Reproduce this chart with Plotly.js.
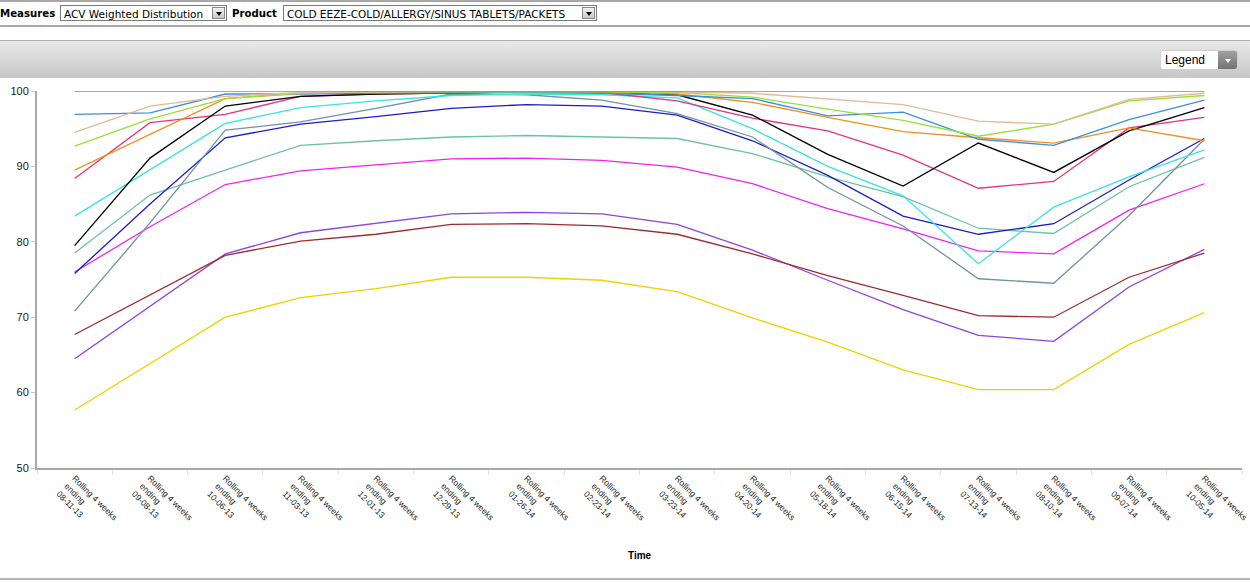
<!DOCTYPE html>
<html><head><meta charset="utf-8">
<script src="https://cdn.plot.ly/plotly-3.0.1.min.js"></script>
<style>
body{margin:0;width:1250px;height:586px;background:#fff;overflow:hidden;position:relative;font-family:"DejaVu Sans",Verdana,sans-serif}
.abs{position:absolute}
.lbl{font-weight:bold;font-size:10.2px;color:#000;top:8px}
.sel{top:5px;height:16px;border:1px solid #7a7a7a;background:#fff;font-size:10.5px;line-height:16px;color:#000;box-sizing:border-box;padding-left:3px;white-space:nowrap;overflow:hidden}
.arr{position:absolute;right:1px;top:1px;width:13px;height:12px;background:linear-gradient(#f2f2f2,#c8c8c8);border:1px solid #888;box-sizing:border-box}
.arr:after{content:"";position:absolute;left:3px;top:4px;border-left:3px solid transparent;border-right:3px solid transparent;border-top:4px solid #000}
</style></head><body>
<div class="abs" style="left:0;top:0;width:1250px;height:2px;background:#a8a8a8"></div>
<div class="abs lbl" style="left:0px">Measures</div>
<div class="abs sel" style="left:60px;width:167px">ACV Weighted Distribution<div class="arr"></div></div>
<div class="abs lbl" style="left:232px">Product</div>
<div class="abs sel" style="left:283px;width:314px">COLD EEZE-COLD/ALLERGY/SINUS TABLETS/PACKETS<div class="arr"></div></div>
<div class="abs" style="left:0;top:25px;width:1250px;height:2px;background:#a8a8a8"></div>
<div class="abs" style="left:0;top:40px;width:1250px;height:38px;background:linear-gradient(#e9e9e9,#c6c6c6);border-top:1px solid #b0b0b0;box-sizing:border-box"></div>
<div class="abs" style="left:1160px;top:50px;width:78px;height:20px;border-radius:3px;background:#fff;box-sizing:border-box;border:1px solid #d0d0d0;overflow:hidden">
 <div class="abs" style="left:4px;top:2px;font-family:'Liberation Sans',Arial,sans-serif;font-size:12px;color:#000">Legend</div>
 <div class="abs" style="left:57px;top:0;width:21px;height:20px;background:linear-gradient(#a0a0a0,#6e6e6e)"></div>
 <div class="abs" style="left:64px;top:8px;border-left:3.5px solid transparent;border-right:3.5px solid transparent;border-top:4px solid #fff"></div>
</div>
<div id="chart" class="abs" style="left:0;top:78px;width:1250px;height:502px"></div>
<div class="abs" style="left:0;top:578px;width:1250px;height:2px;background:#b4b4b4"></div>
<script>
const weekEnding = ["08-11-13","09-08-13","10-06-13","11-03-13","12-01-13","12-29-13","01-26-14","02-23-14","03-23-14","04-20-14","05-18-14","06-15-14","07-13-14","08-10-14","09-07-14","10-05-14"];
const tickLabels = weekEnding.map(d => "Rolling 4 weeks<br>ending<br>" + d);

const s01 = [100,100,100,100,100,100,100,100,100,100,100,100,100,100,100,100];
const s02 = [94.5,98.0,99.3,99.8,99.9,100,100,100,99.9,99.7,99.0,98.2,96.0,95.6,98.9,99.7];
const s03 = [92.7,96.3,99.0,99.7,99.9,99.9,99.9,99.9,99.8,99.2,97.6,96.1,94.0,95.6,98.7,99.4];
const s04 = [96.9,97.1,99.6,99.6,99.7,99.8,99.8,99.7,99.4,99.0,96.7,97.2,93.6,92.8,96.2,98.8];
const s05 = [89.5,94.2,99.0,99.7,99.9,99.9,99.9,99.9,99.6,98.5,96.5,94.6,93.8,93.1,95.1,93.4];
const s06 = [79.5,91.1,98.0,99.3,99.6,99.8,99.9,99.9,99.5,96.8,91.6,87.4,93.1,89.2,94.7,97.8];
const s07 = [88.4,95.8,96.9,99.3,99.6,99.8,99.9,99.8,98.7,96.4,94.7,91.5,87.1,88.0,95.1,96.5];
const s08 = [83.4,89.5,95.7,97.8,98.7,99.4,99.6,99.5,99.1,95.0,90.0,86.1,77.1,84.6,88.6,92.2];
const s09 = [70.8,82.5,94.8,95.9,97.7,99.6,99.5,98.8,97.0,93.9,87.2,82.1,75.1,74.5,83.5,93.6];
const s10 = [75.8,85.0,93.8,95.6,96.6,97.7,98.2,98.0,96.8,93.4,88.8,83.4,81.0,82.4,88.2,93.7];
const s11 = [78.5,86.2,89.5,92.8,93.4,93.9,94.1,93.9,93.7,91.7,88.6,86.0,81.8,81.1,87.3,91.2];
const s12 = [76.0,82.0,87.6,89.4,90.2,91.0,91.1,90.8,89.9,87.7,84.4,81.7,78.8,78.4,84.2,87.7];
const s13 = [67.7,73.0,78.2,80.1,81.0,82.3,82.4,82.1,81.0,78.4,75.5,72.9,70.2,70.0,75.3,78.5];
const s14 = [64.5,71.5,78.4,81.2,82.5,83.7,83.9,83.7,82.3,78.9,74.9,71.0,67.6,66.8,74.0,79.0];
const s15 = [57.7,63.9,70.0,72.6,73.8,75.3,75.3,74.9,73.4,69.9,66.7,63.0,60.4,60.4,66.4,70.6];

const seriesList = [s15,s14,s13,s12,s11,s10,s09,s08,s07,s06,s05,s04,s03,s02,s01];
const colors = ["#f2d000","#8a45e0","#a02a30","#f022f0","#6fc2a0","#1c1ccc","#6f94a4","#38e4e4","#e6347c","#000000","#f0901e","#3c8ee0","#98e034","#e6b898","#6a9e76"];

const traces = seriesList.map((ys, i) => ({
  type: "scatter", mode: "lines", x: tickLabels, y: ys,
  line: {color: colors[i], width: 1.3}, name: "Series " + (i+1),
  hoverinfo: "skip", showlegend: false
}));

const layout = {
  width: 1250, height: 502,
  margin: {l: 37, r: 8, t: 13, b: 112, pad: 0},
  paper_bgcolor: "#fff", plot_bgcolor: "#fff",
  showlegend: false,
  font: {family: "Liberation Sans, Arial, sans-serif", size: 10, color: "#222"},
  xaxis: {
    type: "category", range: [-0.5, 15.5], showgrid: false, zeroline: false,
    showline: true, linecolor: "#a8a8a8", linewidth: 2,
    ticks: "outside", tickson: "boundaries", ticklen: 5, tickcolor: "#e2e2e2", tickwidth: 1,
    tickangle: 45, tickfont: {size: 8.5, color: "#222"}, fixedrange: true
  },
  yaxis: {
    range: [50, 100], dtick: 10, showgrid: false, zeroline: false,
    showline: true, linecolor: "#a8a8a8", linewidth: 2,
    ticks: "outside", ticklen: 4, tickcolor: "#c8c8c8",
    tickfont: {size: 11, color: "#222"}, fixedrange: true
  },
  annotations: [{
    text: "<b>Time</b>", xref: "paper", yref: "paper", x: 0.5, y: -0.232,
    xanchor: "center", yanchor: "middle", showarrow: false,
    font: {size: 10, color: "#000"}
  }]
};

Plotly.newPlot("chart", traces, layout, {displayModeBar: false, staticPlot: true});
</script>
</body></html>
